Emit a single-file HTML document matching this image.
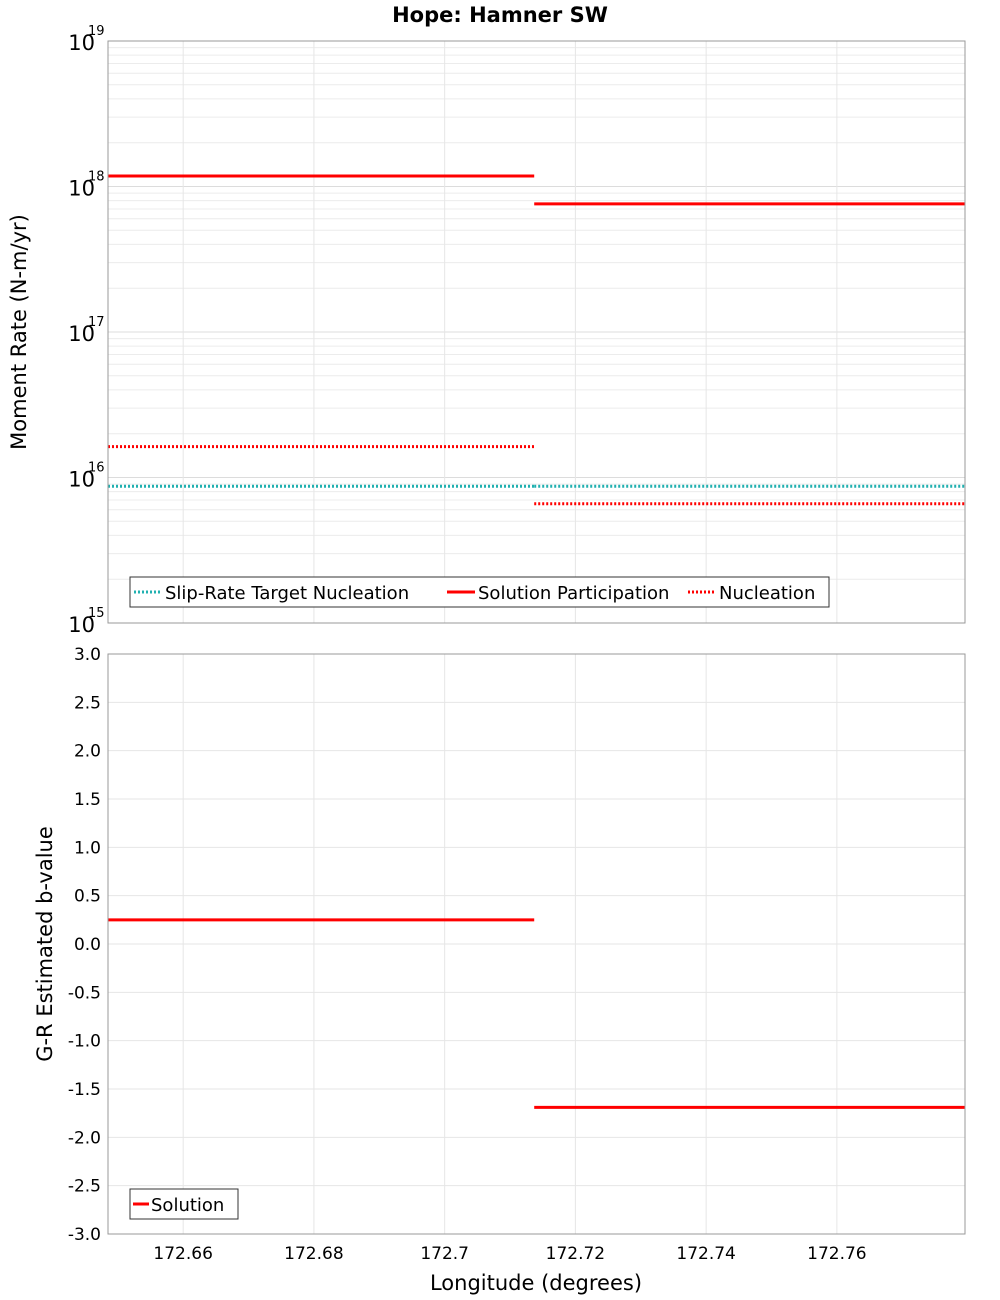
<!DOCTYPE html>
<html><head><meta charset="utf-8"><style>
html,body{margin:0;padding:0;background:#fff;}
svg{display:block;font-family:"DejaVu Sans","Liberation Sans",sans-serif;}
</style></head><body>
<svg id="chart" width="1000" height="1300" xmlns="http://www.w3.org/2000/svg">
<text x="500" y="22" text-anchor="middle" font-size="21" font-weight="bold">Hope: Hamner SW</text>
<g id="topPlot"></g>
<g id="botPlot"></g>
<text transform="translate(26,332) rotate(-90)" text-anchor="middle" font-size="21">Moment Rate (N-m/yr)</text>
<text transform="translate(52,944) rotate(-90)" text-anchor="middle" font-size="21">G-R Estimated b-value</text>
<text x="536" y="1290" text-anchor="middle" font-size="21">Longitude (degrees)</text>
</svg>
<script>
const xTicks=[172.66,172.68,172.7,172.72,172.74,172.76];
const xTickLabels=["172.66","172.68","172.7","172.72","172.74","172.76"];
const segStarts=[172.6485,172.7137];
const segEnds=[172.7137,172.7796];
const solutionParticipation=[1.18e18,7.6e17];
const nucleation=[1.63e16,6.6e15];
const slipRateTargetNucleation=[8.7e15,8.7e15];
const bValues=[0.25,-1.69];
const logTicks=[15,16,17,18,19];
const bTicks=[3,2.5,2,1.5,1,0.5,0,-0.5,-1,-1.5,-2,-2.5,-3];
const bTickLabels=["3.0","2.5","2.0","1.5","1.0","0.5","0.0","-0.5","-1.0","-1.5","-2.0","-2.5","-3.0"];

const NS="http://www.w3.org/2000/svg";
const X0=108,X1=965,xMin=172.6485,xMax=172.7796;
const xs=v=>X0+(v-xMin)/(xMax-xMin)*(X1-X0);
const T0=41,T1=623;
const ysTop=v=>T1-(Math.log10(v)-15)/4*(T1-T0);
const B0=654,B1=1234;
const ysBot=v=>B0+(3-v)/6*(B1-B0);
function mk(p,tag,at,txt){const e=document.createElementNS(NS,tag);for(const k in at)e.setAttribute(k,at[k]);if(txt!==undefined)e.textContent=txt;p.appendChild(e);return e;}
const topG=document.getElementById('topPlot'),botG=document.getElementById('botPlot');

for(let d=15;d<19;d++){for(let m=2;m<=9;m++){const y=ysTop(m*Math.pow(10,d));
const g=mk(topG,'line',{x1:X0,x2:X1,y1:y,y2:y,stroke:'#ececec','stroke-width':1});

}}
logTicks.forEach(t=>{const y=ysTop(Math.pow(10,t));
const g=mk(topG,'line',{x1:X0,x2:X1,y1:y,y2:y,stroke:'#dcdcdc','stroke-width':1});


const l=mk(topG,'text',{x:95,y:y+9,'text-anchor':'end','font-size':21},'10');


const s=mk(topG,'text',{x:88,y:y-6,'font-size':13},String(t));

});
xTicks.forEach(v=>{const x=xs(v);
const g=mk(topG,'line',{x1:x,x2:x,y1:T0,y2:T1,stroke:'#e6e6e6','stroke-width':1});


const g2=mk(botG,'line',{x1:x,x2:x,y1:B0,y2:B1,stroke:'#e6e6e6','stroke-width':1});

});
xTickLabels.forEach((s,i)=>{const t=mk(botG,'text',{x:xs(xTicks[i]),y:1259,'text-anchor':'middle','font-size':17},s);

});
bTicks.forEach((v,i)=>{const y=ysBot(v);
const g=mk(botG,'line',{x1:X0,x2:X1,y1:y,y2:y,stroke:'#e6e6e6','stroke-width':1});


const t=mk(botG,'text',{x:101,y:y+6,'text-anchor':'end','font-size':17},bTickLabels[i]);

});

segStarts.forEach((s,i)=>{
const a=mk(topG,'line',{x1:xs(s),x2:xs(segEnds[i]),y1:ysTop(slipRateTargetNucleation[i]),y2:ysTop(slipRateTargetNucleation[i]),stroke:'#20b0b0','stroke-width':3,'stroke-dasharray':'2,2'});


const b=mk(topG,'line',{x1:xs(s),x2:xs(segEnds[i]),y1:ysTop(solutionParticipation[i]),y2:ysTop(solutionParticipation[i]),stroke:'#f00','stroke-width':3});


const c=mk(topG,'line',{x1:xs(s),x2:xs(segEnds[i]),y1:ysTop(nucleation[i]),y2:ysTop(nucleation[i]),stroke:'#f00','stroke-width':3,'stroke-dasharray':'2,2'});


const d=mk(botG,'line',{x1:xs(s),x2:xs(segEnds[i]),y1:ysBot(bValues[i]),y2:ysBot(bValues[i]),stroke:'#f00','stroke-width':3});

});

const f1=mk(topG,'rect',{x:X0,y:T0,width:X1-X0,height:T1-T0,fill:'none',stroke:'#999'});


const f2=mk(botG,'rect',{x:X0,y:B0,width:X1-X0,height:B1-B0,fill:'none',stroke:'#999'});



const lg=mk(topG,'g',{});


mk(lg,'rect',{x:130,y:577,width:699,height:30,fill:'#fff',stroke:'#333'});
const items=[[134,'Slip-Rate Target Nucleation','#20b0b0',true],[447,'Solution Participation','#f00',false],[688,'Nucleation','#f00',true]];
items.forEach(it=>{const e=mk(lg,'g',{});


const at={x1:it[0],x2:it[0]+28,y1:592,y2:592,stroke:it[2],'stroke-width':3};if(it[3])at['stroke-dasharray']='2,2';
mk(e,'line',at);mk(e,'text',{x:it[0]+31,y:599,'font-size':18},it[1]);});
const lb=mk(botG,'g',{});


mk(lb,'rect',{x:130,y:1189,width:108,height:30,fill:'#fff',stroke:'#333'});
mk(lb,'line',{x1:133,x2:149,y1:1204,y2:1204,stroke:'#f00','stroke-width':3});
mk(lb,'text',{x:151,y:1211,'font-size':18},'Solution');
</script>
</body></html>
